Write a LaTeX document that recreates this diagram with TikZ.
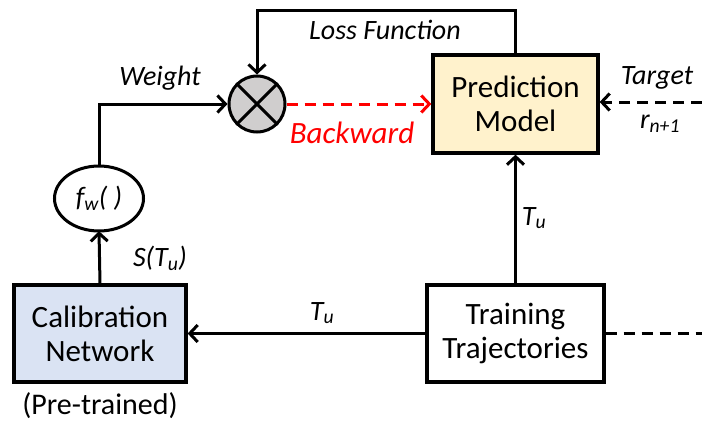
\documentclass[tikz,border=0pt]{standalone}
\usepackage{fontspec}
\setmainfont{Carlito}
\usetikzlibrary{arrows.meta,shapes.geometric}
\definecolor{predfill}{HTML}{FFF2CC}
\definecolor{calfill}{HTML}{DAE3F3}
\definecolor{xfill}{HTML}{D0CECE}
\definecolor{backred}{HTML}{FF0000}
\begin{document}
\begin{tikzpicture}[x=1pt,y=-1pt,
  box/.style={draw, line width=3.3pt, align=center, inner sep=0pt,
    font=\fontsize{31}{34}\selectfont},
  conn/.style={line width=3pt},
  arr/.style={conn, -{Straight Barb[length=8pt,width=17pt]}},
  dash pat/.style={dash pattern=on 11pt off 7pt},
  lbl/.style={font=\fontsize{28}{30}\selectfont\itshape, inner sep=0pt}
]
\useasboundingbox (0,0) rectangle (702,423);

\node[box, fill=predfill, minimum width=165pt, minimum height=98pt] (pred) at (515.5,104) {Prediction\\Model};
\node[box, fill=white, minimum width=177pt, minimum height=97pt] (train) at (515.5,333.5) {Training\\Trajectories};
\node[box, fill=calfill, minimum width=172pt, minimum height=97pt] (cal) at (100,333.5) {Calibration\\Network};
\node[font=\fontsize{30}{33}\selectfont, inner sep=0pt] (pre) at (100,406) {(Pre-trained)};

\node[rectangle, minimum width=89pt, minimum height=65pt, inner sep=0pt,
  font=\fontsize{28}{30}\selectfont\itshape] (fw) at (99,198.5) {f\textsubscript{w}( )};
\draw[conn] (fw.center) ellipse [x radius=44.5pt, y radius=32.5pt];
\node[draw, circle, line width=3pt, fill=xfill, minimum size=56pt, inner sep=0pt] (mul) at (257,104) {};
\draw[conn] (mul.45) -- (mul.225) (mul.135) -- (mul.315);

\coordinate (tgt) at (702,102);
\coordinate (out) at (702,333.5);

\draw[arr] (cal.north) -- (fw.south);
\draw[arr] (fw.north) |- (mul.west);
\draw[arr] (pred.north) -- ++(0,-43) -| (mul.north);
\draw[arr, dash pat, backred] (mul.east) -- (pred.west);
\draw[arr, dash pat] (tgt) -- (pred.east |- tgt);
\draw[arr] (train.north) -- (pred.south);
\draw[arr] (train.west) -- (cal.east);
\draw[conn, dash pat] (train.east) -- (out);

\node[lbl] (lw) at (160,78) {Weight};
\node[lbl] (ll) at (385,30) {Loss Function};
\node[lbl, text=backred, font=\fontsize{31}{33}\selectfont\itshape] (lb) at (352,133) {Backward};
\node[lbl] (lt) at (657,78) {Target};
\node[lbl] (lr) at (660,124) {r\textsubscript{n+1}};
\node[lbl] (lS) at (160,258) {S(T\textsubscript{u})};
\node[lbl] (lu1) at (534,218) {T\textsubscript{u}};
\node[lbl] (lu2) at (322,313) {T\textsubscript{u}};
\end{tikzpicture}
\end{document}
